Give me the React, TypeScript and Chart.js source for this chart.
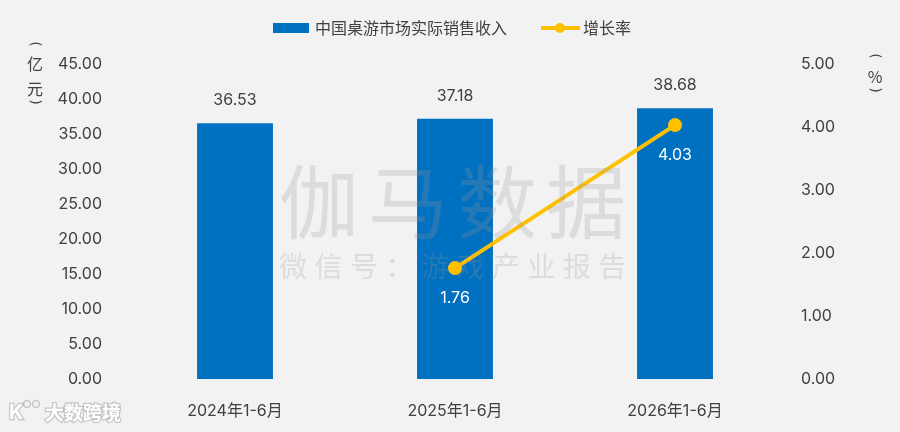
import React, { useEffect, useRef } from "react";
import { Chart, registerables } from "chart.js";

Chart.register(...registerables);

const categories = ["2024年1-6月", "2025年1-6月", "2026年1-6月"];
const revenue = [36.53, 37.18, 38.68];
const growth = [null, 1.76, 4.03];
const revenueLabel = "中国桌游市场实际销售收入";
const growthLabel = "增长率";
const leftTicks = { min: 0, max: 45, step: 5 };
const rightTicks = { min: 0, max: 5, step: 1 };

const FONT = "Inter, 'Noto Sans CJK SC', sans-serif";
const CJK = "'Noto Sans CJK SC', sans-serif";
const BLUE = "#0070C0";
const GOLD = "#FFC000";
const TEXT = "#404040";
const BG = "#F2F2F2";

const bgPlugin = {
  id: "bg",
  beforeDraw(chart: any) {
    const ctx = chart.ctx;
    ctx.save();
    ctx.fillStyle = BG;
    ctx.fillRect(0, 0, chart.width, chart.height);
    ctx.restore();
  },
};

const labelPlugin = {
  id: "labels",
  afterDatasetsDraw(chart: any) {
    const ctx = chart.ctx;
    ctx.save();
    ctx.font = `16px ${FONT}`;
    ctx.textAlign = "center";
    ctx.textBaseline = "middle";
    chart.data.datasets.forEach((ds: any, i: number) => {
      const meta = chart.getDatasetMeta(i);
      meta.data.forEach((el: any, j: number) => {
        const v = ds.data[j];
        if (v === null || v === undefined) return;
        if (ds.type === "line") {
          ctx.fillStyle = "#FFFFFF";
          ctx.fillText(v.toFixed(2), el.x, el.y + 30);
        } else {
          ctx.fillStyle = TEXT;
          ctx.fillText(v.toFixed(2), el.x, el.y - 23);
        }
      });
    });
    ctx.restore();
  },
};

function rotatedParen(ctx: any, ch: string, x: number, y: number) {
  ctx.save();
  ctx.translate(x, y);
  ctx.rotate(Math.PI / 2);
  ctx.font = `14px 'DejaVu Sans', sans-serif`;
  ctx.textAlign = "center";
  ctx.textBaseline = "middle";
  ctx.fillText(ch, 0, 0);
  ctx.restore();
}

const decoPlugin = {
  id: "deco",
  afterDraw(chart: any) {
    const ctx = chart.ctx;
    ctx.save();
    // legend
    const lx = 273;
    const ly = 28;
    ctx.fillStyle = BLUE;
    ctx.fillRect(lx, ly - 5, 36, 10);
    ctx.fillStyle = TEXT;
    ctx.font = `16px ${CJK}`;
    ctx.textAlign = "left";
    ctx.textBaseline = "middle";
    ctx.fillText(revenueLabel, 315, ly);
    ctx.strokeStyle = GOLD;
    ctx.lineWidth = 4;
    ctx.beginPath();
    ctx.moveTo(541, ly);
    ctx.lineTo(580, ly);
    ctx.stroke();
    ctx.fillStyle = GOLD;
    ctx.beginPath();
    ctx.arc(560, ly, 5, 0, Math.PI * 2);
    ctx.fill();
    ctx.fillStyle = TEXT;
    ctx.fillText(growthLabel, 583, ly);

    // axis titles (vertical)
    ctx.textAlign = "center";
    ctx.font = `16px ${CJK}`;
    rotatedParen(ctx, "(", 35, 44);
    ctx.font = `16px ${CJK}`;
    ctx.fillText("亿", 35, 64);
    ctx.fillText("元", 35, 89);
    rotatedParen(ctx, ")", 35, 102);
    rotatedParen(ctx, "(", 875, 56);
    ctx.font = `16px ${CJK}`;
    ctx.fillText("%", 875, 77);
    rotatedParen(ctx, ")", 875, 90);

    // watermark
    ctx.fillStyle = "rgba(150,150,150,0.24)";
    ctx.font = `80px ${CJK}`;
    const big = "伽马数据".split("");
    big.forEach((c, i) => ctx.fillText(c, 319 + i * 89, 202));
    ctx.font = `28px ${CJK}`;
    const small = "微信号：游戏产业报告".split("");
    small.forEach((c, i) => ctx.fillText(c, 293 + i * 35.5, 266));

    // bottom-left logo
    ctx.font = `bold 19px ${CJK}`;
    ctx.textAlign = "left";
    ctx.lineWidth = 2.5;
    ctx.strokeStyle = "rgba(170,170,170,0.6)";
    ctx.fillStyle = "#FFFFFF";
    ctx.strokeText("大数跨境", 45, 413);
    ctx.fillText("大数跨境", 45, 413);
    ctx.font = `bold 20px ${FONT}`;
    ctx.strokeText("K", 9, 413);
    ctx.fillText("K", 9, 413);
    ctx.lineWidth = 1.5;
    ctx.beginPath();
    ctx.arc(27, 404, 3.5, 0, Math.PI * 2);
    ctx.stroke();
    ctx.beginPath();
    ctx.arc(36, 404, 3.5, 0, Math.PI * 2);
    ctx.stroke();
    ctx.restore();
  },
};

export default function App() {
  const ref = useRef<HTMLCanvasElement>(null);

  useEffect(() => {
    const canvas = ref.current;
    if (!canvas) return;
    const chart = new Chart(canvas, {
      type: "bar",
      data: {
        labels: categories,
        datasets: [
          {
            type: "line",
            label: growthLabel,
            data: growth as any,
            yAxisID: "y1",
            borderColor: GOLD,
            backgroundColor: GOLD,
            borderWidth: 4,
            pointRadius: 7,
            pointHoverRadius: 7,
            pointBackgroundColor: GOLD,
            pointBorderColor: GOLD,
            pointBorderWidth: 0,
            spanGaps: true,
            order: 0,
          } as any,
          {
            type: "bar",
            label: revenueLabel,
            data: revenue,
            yAxisID: "y",
            backgroundColor: BLUE,
            borderWidth: 0,
            categoryPercentage: 1,
            barPercentage: 0.345,
            order: 1,
          } as any,
        ],
      },
      options: {
        responsive: false,
        animation: false,
        layout: { padding: { top: 64, left: 0, right: 0, bottom: 0 } },
        plugins: {
          legend: { display: false },
          tooltip: { enabled: false },
        },
        scales: {
          x: {
            grid: { display: false, drawTicks: false },
            border: { display: false },
            ticks: {
              color: TEXT,
              font: { size: 16, family: FONT },
              padding: 23,
              maxRotation: 0,
            },
            afterFit(s: any) {
              s.height = 53;
            },
          },
          y: {
            position: "left",
            min: leftTicks.min,
            max: leftTicks.max,
            grid: { display: false, drawTicks: false },
            border: { display: false },
            ticks: {
              stepSize: leftTicks.step,
              color: TEXT,
              font: { size: 16, family: FONT },
              padding: 23,
              callback: (v: any) => Number(v).toFixed(2),
            },
            afterFit(s: any) {
              s.width = 125;
            },
          },
          y1: {
            position: "right",
            min: rightTicks.min,
            max: rightTicks.max,
            grid: { display: false, drawTicks: false },
            border: { display: false },
            ticks: {
              stepSize: rightTicks.step,
              color: TEXT,
              font: { size: 16, family: FONT },
              padding: 16,
              callback: (v: any) => Number(v).toFixed(2),
            },
            afterFit(s: any) {
              s.width = 115;
            },
          },
        },
      },
      plugins: [bgPlugin, labelPlugin, decoPlugin],
    });
    return () => chart.destroy();
  }, []);

  return (
    <div
      style={{
        position: "fixed",
        left: 0,
        top: 0,
        width: 900,
        height: 432,
        background: BG,
      }}
    >
      <canvas ref={ref} width={900} height={432} style={{ display: "block" }} />
    </div>
  );
}
